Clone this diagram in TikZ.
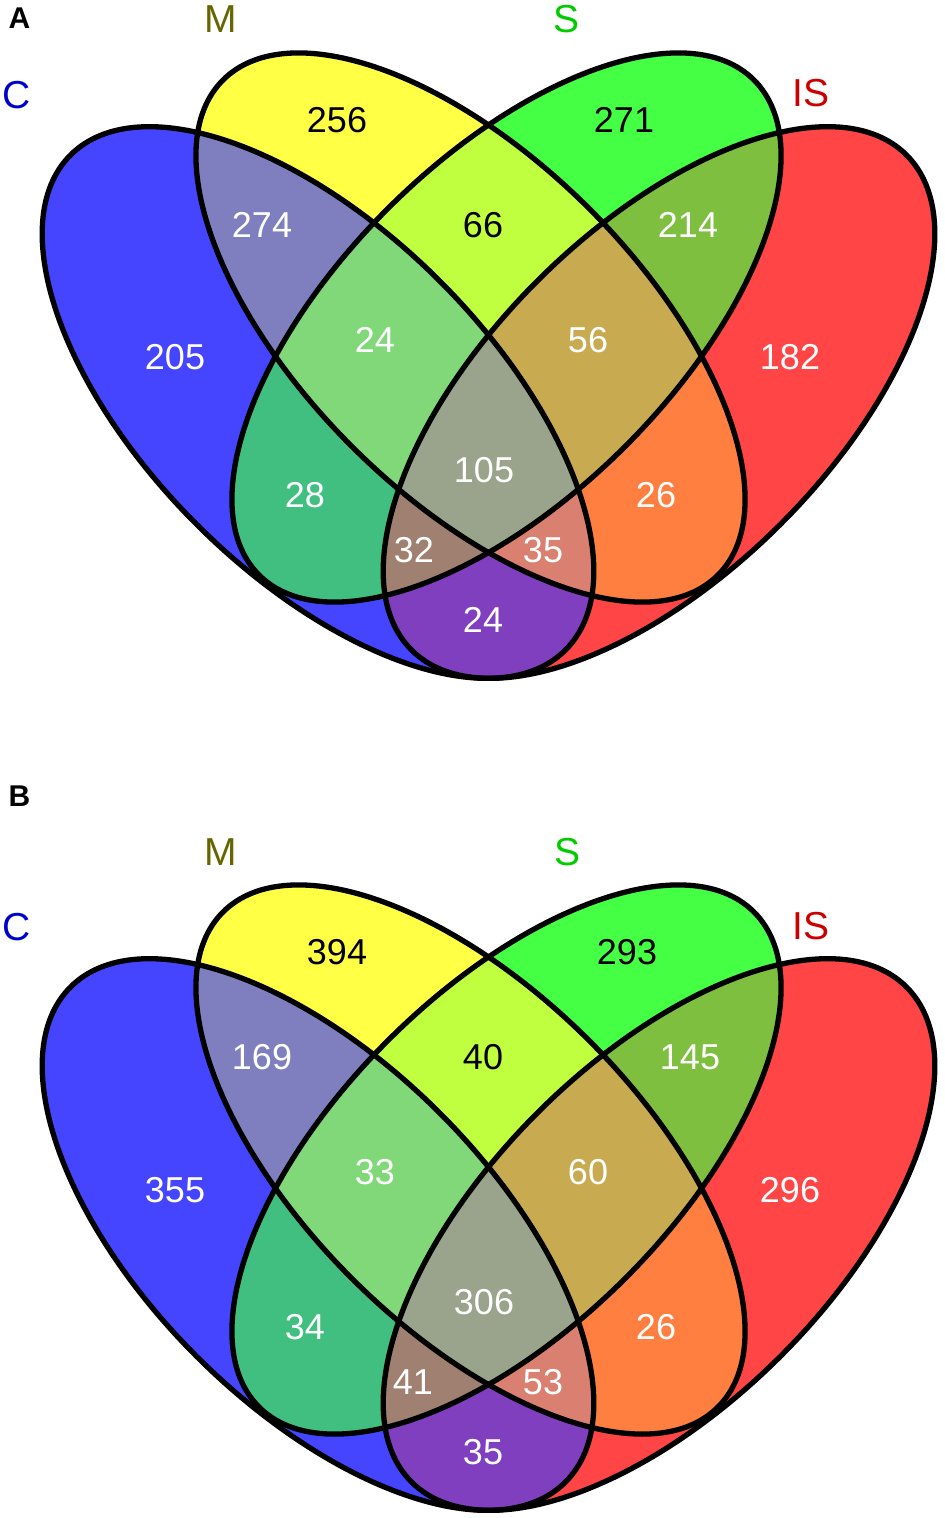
\documentclass[tikz,border=0pt]{standalone}
\usepackage{fontspec}
\setmainfont{Liberation Sans}
\definecolor{colC}{HTML}{4545FF}
\definecolor{colM}{HTML}{FFFF45}
\definecolor{colS}{HTML}{45FF45}
\definecolor{colI}{HTML}{FF4545}
\definecolor{colCM}{HTML}{7F7FBF}
\definecolor{colCS}{HTML}{40BF80}
\definecolor{colCI}{HTML}{803FBF}
\definecolor{colMS}{HTML}{BFFF40}
\definecolor{colMI}{HTML}{FF7F40}
\definecolor{colSI}{HTML}{7FBF40}
\definecolor{colCMS}{HTML}{80D878}
\definecolor{colCMI}{HTML}{D98070}
\definecolor{colCSI}{HTML}{A08070}
\definecolor{colMSI}{HTML}{C8AA50}
\definecolor{colAll}{HTML}{9AA38C}
\definecolor{labC}{HTML}{0000CC}
\definecolor{labM}{HTML}{666600}
\definecolor{labS}{HTML}{00CC00}
\definecolor{labI}{HTML}{CC0000}
\tikzset{
  eC/.style={rotate around={-45:(318,402.5)}},
  eM/.style={rotate around={-45:(470.5,327.5)}},
  eS/.style={rotate around={45:(506.5,327.5)}},
  eI/.style={rotate around={45:(659,402.5)}},
  outl/.style={draw=black, line width=5.3pt},
  num/.style={font=\fontsize{36}{42}\selectfont, text=white, inner sep=0pt},
  numk/.style={num, text=black},
  setlab/.style={font=\fontsize{39}{46}\selectfont, inner sep=0pt},
  panlab/.style={font=\fontsize{30}{36}\selectfont\bfseries, inner sep=0pt},
}
\newcommand\pC{(318,402.5) ellipse [x radius=350pt, y radius=172pt]}
\newcommand\pM{(470.5,327.5) ellipse [x radius=350pt, y radius=168pt]}
\newcommand\pS{(506.5,327.5) ellipse [x radius=350pt, y radius=168pt]}
\newcommand\pI{(659,402.5) ellipse [x radius=350pt, y radius=172pt]}
\newcommand\vennbody{%
 \fill[colC,eC]\pC; \fill[colM,eM]\pM; \fill[colS,eS]\pS; \fill[colI,eI]\pI;
 \begin{scope}\clip[eC]\pC; \fill[colCM,eM]\pM; \end{scope}
 \begin{scope}\clip[eC]\pC; \fill[colCS,eS]\pS; \end{scope}
 \begin{scope}\clip[eC]\pC; \fill[colCI,eI]\pI; \end{scope}
 \begin{scope}\clip[eM]\pM; \fill[colMS,eS]\pS; \end{scope}
 \begin{scope}\clip[eM]\pM; \fill[colMI,eI]\pI; \end{scope}
 \begin{scope}\clip[eS]\pS; \fill[colSI,eI]\pI; \end{scope}
 \begin{scope}\clip[eC]\pC; \clip[eM]\pM; \fill[colCMS,eS]\pS; \end{scope}
 \begin{scope}\clip[eC]\pC; \clip[eM]\pM; \fill[colCMI,eI]\pI; \end{scope}
 \begin{scope}\clip[eC]\pC; \clip[eS]\pS; \fill[colCSI,eI]\pI; \end{scope}
 \begin{scope}\clip[eM]\pM; \clip[eS]\pS; \fill[colMSI,eI]\pI; \end{scope}
 \begin{scope}\clip[eC]\pC; \clip[eM]\pM; \clip[eS]\pS; \fill[colAll,eI]\pI; \end{scope}
 \draw[outl,eC]\pC; \draw[outl,eM]\pM; \draw[outl,eS]\pS; \draw[outl,eI]\pI;
}
\begin{document}
\begin{tikzpicture}[x=1pt,y=-1pt]
\useasboundingbox (0,0) rectangle (945,1518);
% ---------- panel A ----------
\begin{scope}
\vennbody
\end{scope}
\node[panlab] (pA) at (19.5,18) {A};
\node[setlab,text=labC] (aC) at (16.5,95) {C};
\node[setlab,text=labM] (aM) at (221,19) {M};
\node[setlab,text=labS] (aS) at (566,19) {S};
\node[setlab,text=labI] (aI) at (811,93) {IS};
\node[numk] (a1) at (337,120) {256};
\node[numk] (a2) at (624,120) {271};
\node[num]  (a3) at (262,225) {274};
\node[numk] (a4) at (483,225) {66};
\node[num]  (a5) at (688,225) {214};
\node[num]  (a6) at (175,357) {205};
\node[num]  (a7) at (375,340) {24};
\node[num]  (a8) at (588,340) {56};
\node[num]  (a9) at (790,357) {182};
\node[num]  (a10) at (484,470) {105};
\node[num]  (a11) at (305,495) {28};
\node[num]  (a12) at (656,495) {26};
\node[num]  (a13) at (414,550) {32};
\node[num]  (a14) at (543,550) {35};
\node[num]  (a15) at (483,620) {24};
% ---------- panel B ----------
\begin{scope}[shift={(0,832)}]
\vennbody
\end{scope}
\node[panlab] (pB) at (19.5,796) {B};
\node[setlab,text=labC] (bC) at (16.5,927) {C};
\node[setlab,text=labM] (bM) at (221,852) {M};
\node[setlab,text=labS] (bS) at (567,852) {S};
\node[setlab,text=labI] (bI) at (811,926) {IS};
\node[numk] (b1) at (337,952) {394};
\node[numk] (b2) at (627,952) {293};
\node[num]  (b3) at (262,1057) {169};
\node[numk] (b4) at (483,1057) {40};
\node[num]  (b5) at (690,1057) {145};
\node[num]  (b6) at (175,1190) {355};
\node[num]  (b7) at (375,1172) {33};
\node[num]  (b8) at (588,1172) {60};
\node[num]  (b9) at (790,1190) {296};
\node[num]  (b10) at (484,1302) {306};
\node[num]  (b11) at (305,1327) {34};
\node[num]  (b12) at (656,1327) {26};
\node[num]  (b13) at (413,1382) {41};
\node[num]  (b14) at (543,1382) {53};
\node[num]  (b15) at (483,1452) {35};
\end{tikzpicture}
\end{document}
